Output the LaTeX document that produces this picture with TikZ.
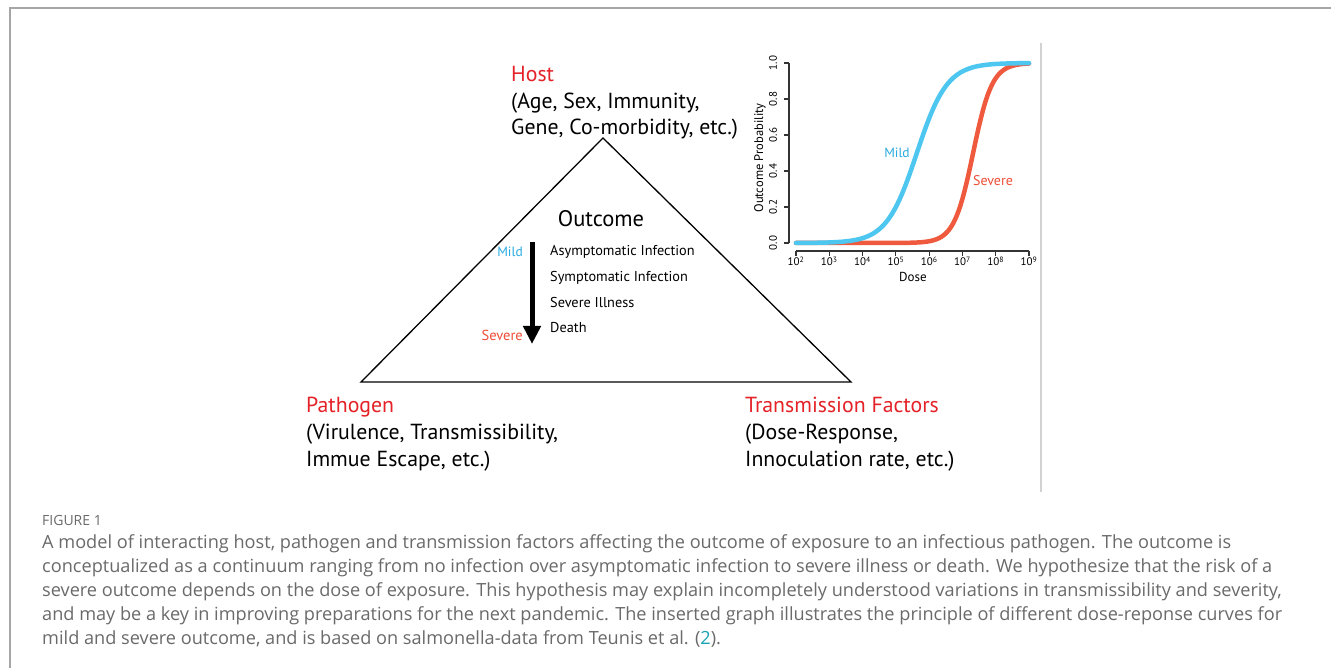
\documentclass[tikz,border=0pt]{standalone}
\usepackage{fontspec}
\setmainfont{PT Sans}
\newfontfamily\capfont{Open Sans}
\usetikzlibrary{arrows.meta}
\definecolor{factorred}{HTML}{E42228}
\definecolor{mildblue}{HTML}{2AAAE0}
\definecolor{severered}{HTML}{EE4D36}
\definecolor{mildline}{HTML}{4DC6F0}
\definecolor{severeline}{HTML}{EF5A3E}
\definecolor{capgray}{HTML}{6A6A6A}
\definecolor{refteal}{HTML}{1AA3B6}
\tikzstyle{factor}=[anchor=base west, align=left, inner sep=0pt, font=\fontsize{21.8}{26.8}\selectfont]
\tikzstyle{level}=[anchor=base west, align=left, inner sep=0pt, font=\fontsize{14.3}{25.7}\selectfont]
\tikzstyle{tick}=[inner sep=0pt, font=\fontsize{11}{12}\selectfont]
\tikzstyle{curve}=[line width=4.5, line cap=round, domain=2:9, samples=120]
\tikzstyle{caption}=[anchor=base west, align=left, inner sep=0pt, text=capgray, font=\capfont\fontsize{18.15}{24}\selectfont]

\begin{document}
\begin{tikzpicture}[x=1pt, y=-1pt,
    declare function={sig(\t,\m,\k)=1/(1+exp(max(-9,min(9,-\k*(\t-\m)))));}]
    \useasboundingbox (0,0) rectangle (1331,668);
    \fill [white] (0,0) rectangle (1331,668);
    % page frame and separator
    \draw [gray!70, line width=1.6] (10,668) -- (10,8) -- (1331,8);
    \draw [gray!35, line width=1.4] (1041,43) -- (1041,492);

    % the three factors (multi-line nodes sit on their last baseline)
    \coordinate (top) at (603,138);
    \coordinate (left) at (361,382);
    \coordinate (right) at (851,382);
    \draw [line width=1.3] (top) -- (left) -- (right) -- cycle;

    \node [factor] (host) at (511,135) {\textcolor{factorred}{Host}\\(Age, Sex, Immunity,\\Gene, Co-morbidity, etc.)};
    \node [factor] (pathogen) at (306,466) {\textcolor{factorred}{Pathogen}\\(Virulence, Transmissibility,\\Immue Escape, etc.)};
    \node [factor] (transmission) at (745,466) {\textcolor{factorred}{Transmission Factors}\\(Dose-Response,\\Innoculation rate, etc.)};

    % outcome scale
    \node [anchor=base, inner sep=0pt, font=\fontsize{22.5}{24}\selectfont] (outcome) at (601,227) {Outcome};
    \node [level] (levels) at (550,333) {Asymptomatic Infection\\Symptomatic Infection\\Severe Illness\\Death};
    \coordinate (mildend) at (532,242);
    \coordinate (severeend) at (532,344);
    \draw [line width=5, -{Triangle[width=17,length=18]}] (mildend) -- (severeend);
    \node [anchor=base east, inner sep=0pt, text=mildblue, font=\fontsize{13.5}{16}\selectfont] (mild) at (523,257) {Mild};
    \node [anchor=base east, inner sep=0pt, text=severered, font=\fontsize{14.5}{16}\selectfont] (severe) at (523,341) {Severe};

    % dose-response graph
    \draw [black!80, line width=1.1] (789,63) -- (789,243);
    \draw [black!80, line width=1.1] (796,251) -- (1029,251);
    \foreach \v/\lab in {0/0.0, 2/0.2, 4/0.4, 6/0.6, 8/0.8, 10/1.0} {
        \pgfmathsetmacro\ty{243-18*\v}
        \draw [black!80, line width=1.1] (784,\ty) -- (789,\ty);
        \node [tick, rotate=90] (py\v) at (773,\ty) {\lab};
    }
    \foreach \e in {2,...,9} {
        \pgfmathsetmacro\tx{796+(\e-2)*33.29}
        \draw [black!80, line width=1.1] (\tx,251) -- (\tx,256);
        \node [tick, anchor=base] (dx\e) at (\tx,266) {10\textsuperscript{\e}};
    }
    \node [tick, rotate=90, font=\fontsize{12.5}{14}\selectfont] (ylab) at (760,158) {Outcome Probability};
    \node [tick, font=\fontsize{13}{14}\selectfont] (xlab) at (913,277) {Dose};

    \draw [curve, severeline] plot ({796+(\x-2)*33.29}, {243-180*sig(\x,7.32,3.5)});
    \draw [curve, mildline] plot ({796+(\x-2)*33.29}, {243-180*sig(\x,5.63,2.2)});
    \node [text=mildblue, font=\fontsize{13.5}{15}\selectfont] (mildcurve) at (897,153) {Mild};
    \node [text=severered, font=\fontsize{14}{15}\selectfont] (severecurve) at (993,181) {Severe};

    % caption
    \node [caption, font=\capfont\fontsize{14}{16}\selectfont] (figno) at (42,525) {FIGURE 1};
    \node [caption] (captext) at (42,644) {A model of interacting host, pathogen and transmission factors affecting the outcome of exposure to an infectious pathogen. The outcome is\\
conceptualized as a continuum ranging from no infection over asymptomatic infection to severe illness or death. We hypothesize that the risk of a\\
severe outcome depends on the dose of exposure. This hypothesis may explain incompletely understood variations in transmissibility and severity,\\
and may be a key in improving preparations for the next pandemic. The inserted graph illustrates the principle of different dose-reponse curves for\\
mild and severe outcome, and is based on salmonella-data from Teunis et al. (\textcolor{refteal}{2}).};
\end{tikzpicture}
\end{document}
